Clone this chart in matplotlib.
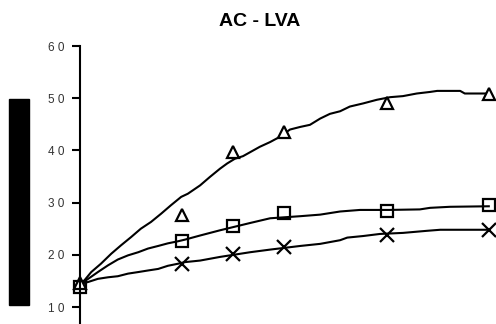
import matplotlib
matplotlib.use("Agg")
import matplotlib.pyplot as plt
from matplotlib.patches import Rectangle

plt.rcParams["font.family"] = ["Liberation Sans", "DejaVu Sans"]

# sampling weeks with measured points
weeks = [0, 2, 3, 4, 6, 8]
tri_vals = [14.6, 27.7, 39.7, 43.6, 49.0, 50.9]
sq_vals = [13.8, 22.6, 25.5, 28.1, 28.4, 29.5]
x_weeks = [2, 3, 4, 6, 8]
x_vals = [18.3, 20.2, 21.5, 23.8, 24.8]

# fitted curves (upper / middle / lower)
upper_t = [0, 0.06, 0.22, 0.41, 0.61, 0.80, 1.00, 1.19, 1.39, 1.59, 1.78, 1.98,
           2.11, 2.35, 2.54, 2.74, 2.88, 3.03, 3.19, 3.52, 3.72, 3.91, 4.11,
           4.31, 4.50, 4.70, 4.89, 5.09, 5.28, 5.54, 5.81, 6.07, 6.32, 6.59,
           6.85, 6.99, 7.44, 7.53, 8.00]
upper_v = [14.4, 14.8, 16.7, 18.3, 20.2, 21.8, 23.4, 25.0, 26.3, 27.9, 29.5, 31.1,
           31.7, 33.3, 34.9, 36.5, 37.5, 38.4, 38.9, 40.7, 41.6, 42.6, 44.0,
           44.5, 44.9, 46.1, 47.0, 47.5, 48.4, 49.0, 49.7, 50.2, 50.4, 50.9,
           51.2, 51.4, 51.4, 50.9, 50.9]

mid_t = [0, 0.16, 0.35, 0.55, 0.74, 0.94, 1.14, 1.33, 1.53, 1.72, 1.92, 2.05,
         2.35, 2.74, 3.33, 3.72, 4.31, 4.70, 5.09, 5.48, 6.05, 6.65, 6.85,
         7.24, 8.00]
mid_v = [14.4, 15.4, 16.7, 18.0, 19.1, 19.9, 20.5, 21.2, 21.7, 22.2, 22.6, 22.9,
         23.7, 24.7, 26.1, 27.0, 27.4, 27.7, 28.3, 28.6, 28.6, 28.7, 29.0,
         29.2, 29.3]

low_t = [0, 0.16, 0.35, 0.55, 0.74, 0.94, 1.14, 1.33, 1.53, 1.72, 1.92, 2.05,
         2.35, 2.74, 3.33, 3.72, 4.31, 4.70, 5.09, 5.23, 5.54, 5.87, 6.32,
         6.79, 7.05, 8.00]
low_v = [14.4, 14.8, 15.4, 15.7, 15.9, 16.4, 16.7, 17.0, 17.3, 17.9, 18.3, 18.6,
         18.9, 19.6, 20.5, 21.0, 21.7, 22.1, 22.8, 23.3, 23.6, 24.0, 24.2,
         24.6, 24.8, 24.8]

yticks = [10, 20, 30, 40, 50, 60]
ytick_labels = ["1 0", "2 0", "3 0", "4 0", "5 0", "6 0"]

fig = plt.figure(figsize=(4.96, 3.24), dpi=100)
ax = fig.add_axes([80 / 496, 0, 416 / 496, 278 / 324])

ax.plot(upper_t, upper_v, color="black", lw=1.5, clip_on=False)
ax.plot(mid_t, mid_v, color="black", lw=1.5, clip_on=False)
ax.plot(low_t, low_v, color="black", lw=1.5, clip_on=False)

ax.plot(weeks, tri_vals, ls="none", marker="^", ms=9, mfc="white",
        mec="black", mew=1.6, clip_on=False)
ax.plot(weeks, sq_vals, ls="none", marker="s", ms=9, mfc="none",
        mec="black", mew=1.6, clip_on=False)
ax.plot(x_weeks, x_vals, ls="none", marker="x", ms=9.5, mec="black",
        mew=1.6, clip_on=False)

ax.set_xlim(0, 416 / 51.1)
ax.set_ylim(6.75, 60)
ax.set_yticks(yticks)
ax.set_yticklabels(ytick_labels, fontsize=8.5, color="#333333")
ax.set_xticks([])
for side in ["top", "right", "bottom"]:
    ax.spines[side].set_visible(False)
ax.spines["left"].set_linewidth(1.5)
ax.tick_params(axis="y", length=5.5, width=1.5, pad=6)

fig.text(260 / 496, 1 - 22 / 324, "AC - LVA", ha="center", va="center",
         fontsize=14, fontweight="bold")

# solid block at the left edge
fig.patches.append(Rectangle((9 / 496, 1 - 305 / 324), 20 / 496, 206 / 324,
                             transform=fig.transFigure, color="black"))

fig.savefig("out.png", dpi=100)
